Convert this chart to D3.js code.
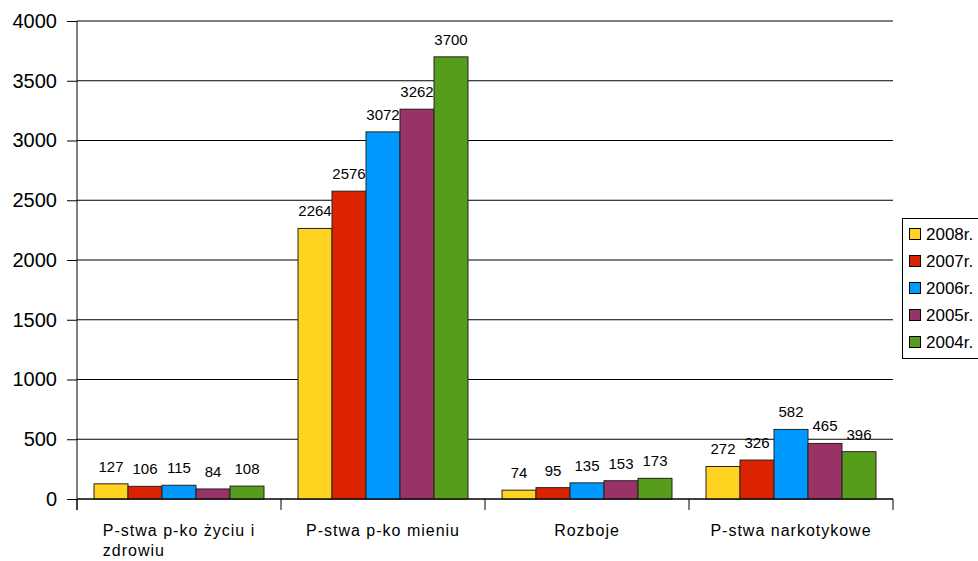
<!DOCTYPE html>
<html><head><meta charset="utf-8">
<script src="https://cdn.jsdelivr.net/npm/d3@7"></script>
<style>html,body{margin:0;padding:0;background:#fff;overflow:hidden}text{font-family:"Liberation Sans",Arial,sans-serif}</style>
</head><body><svg id="c" width="978" height="561"></svg>
<script>
const categories = [["P-stwa p-ko życiu i","zdrowiu"],["P-stwa p-ko mieniu"],["Rozboje"],["P-stwa narkotykowe"]];
const series = ["2008r.","2007r.","2006r.","2005r.","2004r."];
const values2008 = [127, 2264, 74, 272];
const values2007 = [106, 2576, 95, 326];
const values2006 = [115, 3072, 135, 582];
const values2005 = [84, 3262, 153, 465];
const values2004 = [108, 3700, 173, 396];
const yTicks = [0,500,1000,1500,2000,2500,3000,3500,4000];
const colors = ["#FFD320","#DC2300","#0099FF","#993366","#579D1C"];
const allValues = [values2008, values2007, values2006, values2005, values2004];

const svg = d3.select("#c");
const L = 77, R = 893, T = 21, B = 499;
const y = d3.scaleLinear().domain([0,4000]).range([B,T]);
const x0 = d3.scaleBand().domain(d3.range(categories.length)).range([L,R]);
const x1 = d3.scaleBand().domain(d3.range(series.length)).range([0,x0.bandwidth()]).paddingOuter(0.5).paddingInner(0);

// gridlines
svg.append("g").selectAll("line").data(yTicks).join("line")
  .attr("x1",L).attr("x2",R).attr("y1",d=>y(d)).attr("y2",d=>y(d))
  .attr("stroke","#000").attr("stroke-width",1);

// y axis
const ya = svg.append("g").attr("transform",`translate(${L},0)`)
  .call(d3.axisLeft(y).tickValues(yTicks).tickSize(10).tickPadding(10).tickFormat(d3.format("d")));
ya.select(".domain").remove();
ya.selectAll(".tick line").attr("stroke","#000");
ya.selectAll("text").attr("font-size",20).attr("fill","#000").style("font-family","'Liberation Sans',Arial,sans-serif");
svg.append("line").attr("x1",L).attr("x2",L).attr("y1",T).attr("y2",B+11).attr("stroke","#000");

// bars
const groups = svg.append("g").selectAll("g").data(d3.range(categories.length)).join("g")
  .attr("transform",i=>`translate(${x0(i)},0)`);
groups.selectAll("rect").data(i=>series.map((s,j)=>({j,v:allValues[j][i]}))).join("rect")
  .attr("x",d=>x1(d.j)).attr("width",x1.bandwidth())
  .attr("y",d=>y(d.v)).attr("height",d=>B-y(d.v))
  .attr("fill",d=>colors[d.j]).attr("stroke","#222").attr("stroke-width",1);
groups.selectAll("text").data(i=>series.map((s,j)=>({j,v:allValues[j][i]}))).join("text")
  .attr("x",d=>x1(d.j)+x1.bandwidth()/2).attr("y",d=>y(d.v)-12)
  .attr("text-anchor","middle").attr("font-size",15).attr("fill","#000").text(d=>d.v);

// x axis
svg.append("line").attr("x1",L).attr("x2",R).attr("y1",B).attr("y2",B).attr("stroke","#000");
svg.append("g").selectAll("line").data(d3.range(categories.length+1)).join("line")
  .attr("x1",i=>L+i*x0.bandwidth()).attr("x2",i=>L+i*x0.bandwidth())
  .attr("y1",B).attr("y2",B+11).attr("stroke","#000");

// category labels
categories.forEach((lines,i)=>{
  const cx = x0(i)+x0.bandwidth()/2;
  const t1 = svg.append("text").attr("x",cx).attr("y",536).attr("text-anchor","middle")
    .attr("font-size",16).attr("letter-spacing","1px").attr("fill","#000").text(lines[0]);
  if(lines.length>1){
    const w = t1.node().getComputedTextLength();
    svg.append("text").attr("x",cx-w/2).attr("y",556).attr("font-size",16)
      .attr("letter-spacing","1px").attr("fill","#000").text(lines[1]);
  }
});

// legend
svg.append("rect").attr("x",902.5).attr("y",218.5).attr("width",90).attr("height",140)
  .attr("fill","#fff").attr("stroke","#000");
const lg = svg.append("g").selectAll("g").data(series).join("g")
  .attr("transform",(d,i)=>`translate(909,${234+i*27})`);
lg.append("rect").attr("x",0.5).attr("y",-5.5).attr("width",11).attr("height",11)
  .attr("fill",(d,i)=>colors[i]).attr("stroke","#000");
lg.append("text").attr("x",17).attr("y",6).attr("font-size",17).attr("fill","#000").text(d=>d);
</script></body></html>
